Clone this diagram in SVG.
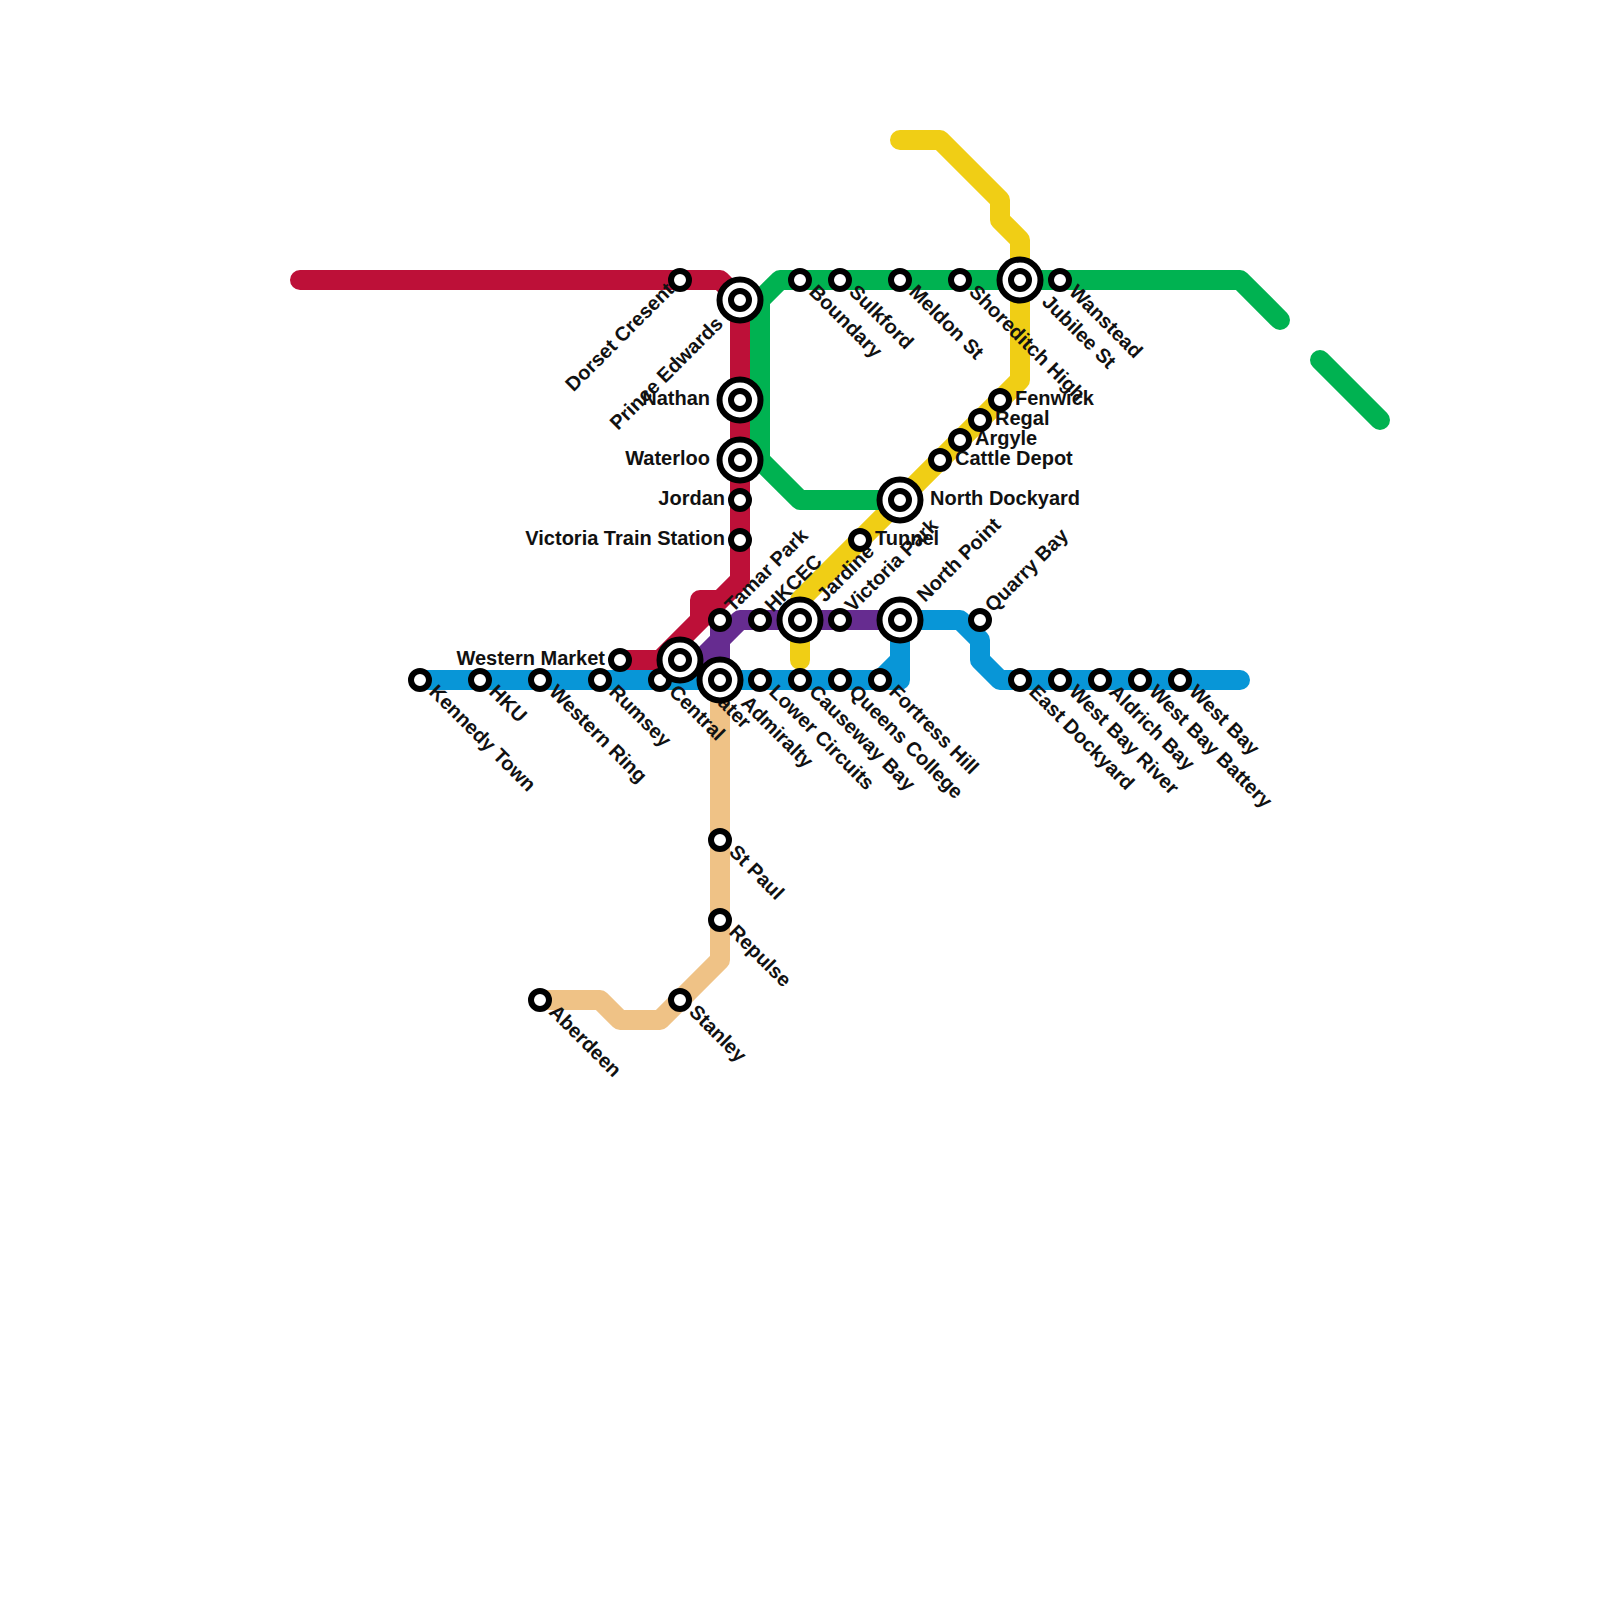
<svg xmlns="http://www.w3.org/2000/svg" width="1600" height="1600" viewBox="0 0 1600 1600">
<style>
.l{fill:none;stroke-width:20;stroke-linecap:round;stroke-linejoin:round}
.s{fill:#fff;stroke:#000;stroke-width:6}
.o{fill:#fff;stroke:#000;stroke-width:6}
text{font-family:"Liberation Sans",Arial,sans-serif;font-size:20px;font-weight:700;fill:#111}
.e{text-anchor:end}
</style>
<rect width="1600" height="1600" fill="#fff"/>
<g id="connectors">
<path class="l" stroke="#efc286" d="M720 680V960L660 1020H620L600 1000H540"/>
<path class="l" stroke="#f0ce15" d="M900 140H940L1000 200V220L1020 240V380L800 600V660"/>
<path class="l" stroke="#00b251" d="M760 460V300L780 280H1240L1280 320M1320 360L1380 420M760 460L800 500H900"/>
<path class="l" stroke="#bd1038" d="M300 280H720L740 300V580L720 600H700V620L660 660H620M720 600L680 640"/>
<path class="l" stroke="#662c90" d="M900 620H740L720 640V680M720 620V640L700 660"/>
<path class="l" stroke="#0896d7" d="M420 680H900V620H960L980 640V660L1000 680H1240M880 680L900 660"/>
</g>
<g id="labels">
<text transform="translate(428 693) rotate(45)">Kennedy Town</text>
<text transform="translate(488 693) rotate(45)">HKU</text>
<text transform="translate(548 693) rotate(45)">Western Ring</text>
<text transform="translate(608 693) rotate(45)">Rumsey</text>
<text transform="translate(668 693) rotate(45)">Central</text>
<text transform="translate(704 691) rotate(45)">Water</text>
<text transform="translate(740 704) rotate(45)">Admiralty</text>
<text transform="translate(768 693) rotate(45)">Lower Circuits</text>
<text transform="translate(808 693) rotate(45)">Causeway Bay</text>
<text transform="translate(848 693) rotate(45)">Queens College</text>
<text transform="translate(888 693) rotate(45)">Fortress Hill</text>
<text transform="translate(1028 693) rotate(45)">East Dockyard</text>
<text transform="translate(1068 693) rotate(45)">West Bay River</text>
<text transform="translate(1108 693) rotate(45)">Aldrich Bay</text>
<text transform="translate(1148 693) rotate(45)">West Bay Battery</text>
<text transform="translate(1188 693) rotate(45)">West Bay</text>
<text transform="translate(728 853) rotate(45)">St Paul</text>
<text transform="translate(728 933) rotate(45)">Repulse</text>
<text transform="translate(688 1013) rotate(45)">Stanley</text>
<text transform="translate(548 1013) rotate(45)">Aberdeen</text>
<text transform="translate(808 293) rotate(45)">Boundary</text>
<text transform="translate(848 293) rotate(45)">Sulkford</text>
<text transform="translate(908 293) rotate(45)">Meldon St</text>
<text transform="translate(968 293) rotate(45)">Shoreditch High</text>
<text transform="translate(1041 303) rotate(45)">Jubilee St</text>
<text transform="translate(1068 293) rotate(45)">Wanstead</text>
<text class="e" transform="translate(675 291) rotate(-45)">Dorset Cresent</text>
<text class="e" transform="translate(724 325) rotate(-45)">Prince Edwards</text>
<text class="e" x="710" y="405">Nathan</text>
<text class="e" x="710" y="465">Waterloo</text>
<text class="e" x="725" y="505">Jordan</text>
<text class="e" x="725" y="545">Victoria Train Station</text>
<text class="e" x="605" y="665">Western Market</text>
<text transform="translate(733 613) rotate(-45)">Tamar Park</text>
<text transform="translate(773 613) rotate(-45)">HKCEC</text>
<text transform="translate(825 603) rotate(-45)">Jardine</text>
<text transform="translate(853 613) rotate(-45)">Victoria Park</text>
<text transform="translate(925 603) rotate(-45)">North Point</text>
<text transform="translate(993 613) rotate(-45)">Quarry Bay</text>
<text x="875" y="545">Tunnel</text>
<text x="930" y="505">North Dockyard</text>
<text x="955" y="465">Cattle Depot</text>
<text x="975" y="445">Argyle</text>
<text x="995" y="425">Regal</text>
<text x="1015" y="405">Fenwick</text>
</g>
<g id="stations">
<circle class="s" cx="420" cy="680" r="9"/>
<circle class="s" cx="480" cy="680" r="9"/>
<circle class="s" cx="540" cy="680" r="9"/>
<circle class="s" cx="600" cy="680" r="9"/>
<circle class="s" cx="660" cy="680" r="9"/>
<circle class="s" cx="620" cy="660" r="9"/>
<circle class="s" cx="760" cy="680" r="9"/>
<circle class="s" cx="800" cy="680" r="9"/>
<circle class="s" cx="840" cy="680" r="9"/>
<circle class="s" cx="880" cy="680" r="9"/>
<circle class="s" cx="1020" cy="680" r="9"/>
<circle class="s" cx="1060" cy="680" r="9"/>
<circle class="s" cx="1100" cy="680" r="9"/>
<circle class="s" cx="1140" cy="680" r="9"/>
<circle class="s" cx="1180" cy="680" r="9"/>
<circle class="s" cx="720" cy="620" r="9"/>
<circle class="s" cx="760" cy="620" r="9"/>
<circle class="s" cx="840" cy="620" r="9"/>
<circle class="s" cx="980" cy="620" r="9"/>
<circle class="s" cx="720" cy="840" r="9"/>
<circle class="s" cx="720" cy="920" r="9"/>
<circle class="s" cx="680" cy="1000" r="9"/>
<circle class="s" cx="540" cy="1000" r="9"/>
<circle class="s" cx="680" cy="280" r="9"/>
<circle class="s" cx="800" cy="280" r="9"/>
<circle class="s" cx="840" cy="280" r="9"/>
<circle class="s" cx="900" cy="280" r="9"/>
<circle class="s" cx="960" cy="280" r="9"/>
<circle class="s" cx="1060" cy="280" r="9"/>
<circle class="s" cx="740" cy="500" r="9"/>
<circle class="s" cx="740" cy="540" r="9"/>
<circle class="s" cx="860" cy="540" r="9"/>
<circle class="s" cx="940" cy="460" r="9"/>
<circle class="s" cx="960" cy="440" r="9"/>
<circle class="s" cx="980" cy="420" r="9"/>
<circle class="s" cx="1000" cy="400" r="9"/>
<g id="i1"><circle class="o" cx="740" cy="300" r="20.5"/><circle class="s" cx="740" cy="300" r="9"/></g>
<g id="i2"><circle class="o" cx="740" cy="400" r="20.5"/><circle class="s" cx="740" cy="400" r="9"/></g>
<g id="i3"><circle class="o" cx="740" cy="460" r="20.5"/><circle class="s" cx="740" cy="460" r="9"/></g>
<g id="i4"><circle class="o" cx="900" cy="500" r="20.5"/><circle class="s" cx="900" cy="500" r="9"/></g>
<g id="i5"><circle class="o" cx="800" cy="620" r="20.5"/><circle class="s" cx="800" cy="620" r="9"/></g>
<g id="i6"><circle class="o" cx="900" cy="620" r="20.5"/><circle class="s" cx="900" cy="620" r="9"/></g>
<g id="i7"><circle class="o" cx="680" cy="660" r="20.5"/><circle class="s" cx="680" cy="660" r="9"/></g>
<g id="i8"><circle class="o" cx="720" cy="680" r="20.5"/><circle class="s" cx="720" cy="680" r="9"/></g>
<g id="i9"><circle class="o" cx="1020" cy="280" r="20.5"/><circle class="s" cx="1020" cy="280" r="9"/></g>
</g>
</svg>
